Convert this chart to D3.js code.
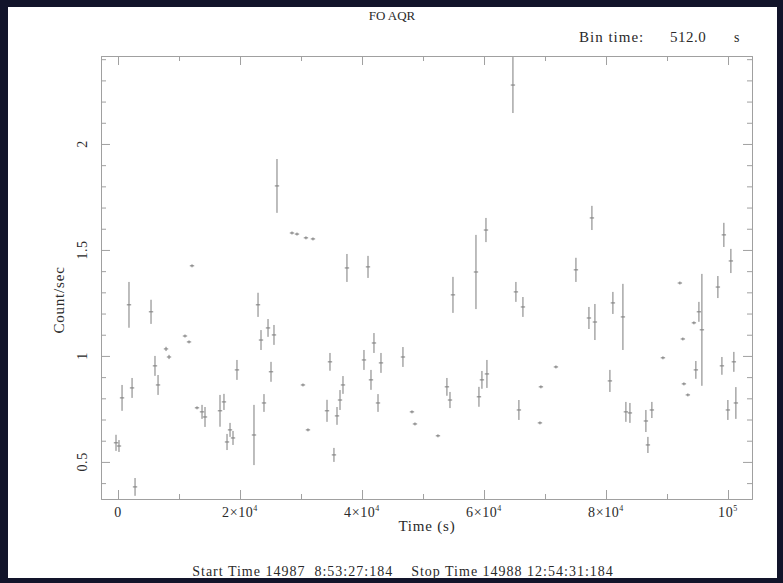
<!DOCTYPE html>
<html>
<head>
<meta charset="utf-8">
<script src="https://cdn.jsdelivr.net/npm/d3@7"></script>
<style>
    body { margin: 0; background: #12142a; }
    svg { display: block; }
    text { font-family: "Liberation Serif", "DejaVu Serif", serif; fill: #2a2a2a; }
</style>
</head>
<body>
<div id="chart"></div>
<script>
// light curve, one bin = 512 s
let binTime = 512

let times = [-330, 160, 660, 1800, 2300, 2790, 5410, 6060, 6560, 7870, 8360, 10980, 11640, 12130, 12950,
    13770, 14260, 16720, 17370, 17870, 18360, 18850, 19500, 22290, 22950, 23440, 23930, 24590, 25080, 25570,
    26060, 28520, 29340, 30320, 30810, 31140, 31960, 34260, 34750, 35400, 35900, 36390, 36880, 37530, 40320,
    40980, 41470, 41960, 42620, 43110, 46710, 48190, 48680, 52450, 53920, 54420, 54910, 58680, 59170, 59660,
    60320, 60480, 64740, 65230, 65720, 66380, 69170, 69330, 71790, 75070, 77200, 77690, 78180, 80640, 81130,
    82770, 83260, 83920, 86540, 86870, 87520, 89330, 92110, 92600, 92770, 93420, 94410, 94730, 95230, 95720,
    98340, 99000, 99320, 99980, 100470, 100960, 101290]

let rates = [0.590, 0.575, 0.802, 1.241, 0.849, 0.382, 1.208, 0.953, 0.863, 1.033, 0.995, 1.094, 1.066, 1.425, 0.755,
    0.736, 0.712, 0.741, 0.783, 0.594, 0.651, 0.613, 0.934, 0.627, 1.241, 1.075, 0.778, 1.132, 0.925, 1.099,
    1.802, 1.580, 1.575, 0.863, 1.557, 0.651, 1.552, 0.741, 0.972, 0.533, 0.717, 0.792, 0.863, 1.415, 0.981,
    1.420, 0.887, 1.061, 0.778, 0.967, 0.995, 0.736, 0.679, 0.623, 0.854, 0.792, 1.288, 1.396, 0.807, 0.887,
    1.594, 0.915, 2.278, 1.302, 0.745, 1.231, 0.684, 0.854, 0.948, 1.406, 1.179, 1.651, 1.160, 0.882, 1.250,
    1.184, 0.736, 0.731, 0.693, 0.580, 0.745, 0.991, 1.344, 1.080, 0.868, 0.816, 1.156, 0.934, 1.208, 1.123,
    1.325, 0.953, 1.571, 0.745, 1.448, 0.972, 0.778]

let errors = [0.038, 0.028, 0.061, 0.108, 0.047, 0.042, 0.057, 0.047, 0.047, 0.010, 0.010, 0.007, 0.007, 0.007, 0.007,
    0.033, 0.047, 0.075, 0.038, 0.038, 0.033, 0.033, 0.047, 0.142, 0.057, 0.047, 0.042, 0.042, 0.047, 0.047,
    0.127, 0.007, 0.007, 0.007, 0.007, 0.007, 0.007, 0.052, 0.042, 0.033, 0.042, 0.047, 0.042, 0.066, 0.047,
    0.052, 0.047, 0.047, 0.042, 0.047, 0.047, 0.007, 0.007, 0.007, 0.042, 0.038, 0.085, 0.175, 0.047, 0.042,
    0.057, 0.066, 0.132, 0.047, 0.047, 0.047, 0.007, 0.007, 0.007, 0.057, 0.052, 0.057, 0.085, 0.052, 0.052,
    0.156, 0.047, 0.047, 0.052, 0.038, 0.038, 0.007, 0.007, 0.007, 0.007, 0.007, 0.007, 0.042, 0.047, 0.264,
    0.052, 0.042, 0.057, 0.047, 0.057, 0.047, 0.075]

let xMajor = [0, 20000, 40000, 60000, 80000, 100000]
let xMajorLabels = [['0', ''], ['2\u00d710', '4'], ['4\u00d710', '4'], ['6\u00d710', '4'], ['8\u00d710', '4'], ['10', '5']]
let xMinor = [10000, 30000, 50000, 70000, 90000]
let yMajor = [0.5, 1, 1.5, 2]
let yMajorLabels = ['0.5', '1', '1.5', '2']
let yMinor = [0.4, 0.6, 0.7, 0.8, 0.9, 1.1, 1.2, 1.3, 1.4, 1.6, 1.7, 1.8, 1.9, 2.1, 2.2, 2.3, 2.4]

let svgWidth = 783
let svgHeight = 583

let margin = {top: 56, right: 31, bottom: 84, left: 101}
let chartWidth = svgWidth - margin.left - margin.right
let chartHeight = svgHeight - margin.top - margin.bottom

let svg = d3.select('#chart')
    .append('svg')
    .attr('width', svgWidth)
    .attr('height', svgHeight)

// dark frame around a white page
svg.append('rect')
    .attr('width', svgWidth).attr('height', svgHeight)
    .attr('fill', '#12142a')
svg.append('rect')
    .attr('x', 8).attr('y', 7)
    .attr('width', 769).attr('height', 571)
    .attr('fill', '#fff')

let x = d3.scaleLinear().domain([-2790, 103930]).range([0, chartWidth])
let y = d3.scaleLinear().domain([0.325, 2.415]).range([chartHeight, 0])

let chartGroup = svg.append('g')
    .attr('transform', `translate(${margin.left}, ${margin.top})`)

const tickAxis = (axisFn, scale, vals, size, tx, ty) => {
    let g = chartGroup.append('g')
        .attr('transform', `translate(${tx}, ${ty})`)
        .call(axisFn(scale).tickValues(vals).tickSize(size).tickSizeOuter(0).tickFormat(''))
    g.selectAll('path, line').attr('stroke', '#a0a0a0')
    return g
}

// box with inward ticks on all four sides
tickAxis(d3.axisBottom, x, xMajor, -9, 0, chartHeight)
tickAxis(d3.axisBottom, x, xMinor, -5, 0, chartHeight)
tickAxis(d3.axisTop, x, xMajor, -9, 0, 0)
tickAxis(d3.axisTop, x, xMinor, -5, 0, 0)
tickAxis(d3.axisLeft, y, yMajor, -9, 0, 0)
tickAxis(d3.axisLeft, y, yMinor, -5, 0, 0)
tickAxis(d3.axisRight, y, yMajor, -9, chartWidth, 0)
tickAxis(d3.axisRight, y, yMinor, -5, chartWidth, 0)

// x tick labels with exponents
let xLabels = chartGroup.selectAll('.xlab')
    .data(xMajor)
    .enter()
    .append('text')
    .attr('x', d => x(d))
    .attr('y', chartHeight + 18)
    .attr('text-anchor', 'middle')
    .attr('font-size', 14)
    .attr('letter-spacing', 0.6)
xLabels.append('tspan').text((d, i) => xMajorLabels[i][0])
xLabels.append('tspan')
    .attr('dy', -6)
    .attr('font-size', 8)
    .text((d, i) => xMajorLabels[i][1])

// y tick labels, rotated like the original
chartGroup.selectAll('.ylab')
    .data(yMajor)
    .enter()
    .append('text')
    .attr('transform', d => `translate(-14, ${y(d)}) rotate(-90)`)
    .attr('text-anchor', 'middle')
    .attr('font-size', 14)
    .attr('letter-spacing', 0.6)
    .text((d, i) => yMajorLabels[i])

// error bars
let pts = times.map((t, i) => ({t: t, r: rates[i], e: errors[i]}))

let bars = chartGroup.append('g')
    .attr('stroke', '#7c7c7c')
    .attr('stroke-width', 1)

bars.selectAll('.ev')
    .data(pts)
    .enter()
    .append('line')
    .attr('x1', d => x(d.t)).attr('x2', d => x(d.t))
    .attr('y1', d => Math.max(0, y(d.r + d.e)))
    .attr('y2', d => y(d.r - d.e))

bars.selectAll('.eh')
    .data(pts)
    .enter()
    .append('line')
    .attr('x1', d => x(d.t - binTime * 0.7)).attr('x2', d => x(d.t + binTime * 0.7))
    .attr('y1', d => y(d.r)).attr('y2', d => y(d.r))

// titles
svg.append('text')
    .attr('x', 392).attr('y', 20)
    .attr('text-anchor', 'middle')
    .attr('font-size', 13)
    .text('FO AQR')

svg.append('text')
    .attr('x', 579).attr('y', 42)
    .attr('font-size', 15)
    .attr('letter-spacing', 1)
    .text('Bin time:')
svg.append('text')
    .attr('x', 670).attr('y', 42)
    .attr('font-size', 15)
    .attr('letter-spacing', 0.5)
    .text('512.0')
svg.append('text')
    .attr('x', 734).attr('y', 42)
    .attr('font-size', 14)
    .text('s')

svg.append('text')
    .attr('x', 427).attr('y', 531)
    .attr('text-anchor', 'middle')
    .attr('font-size', 15)
    .attr('letter-spacing', 0.8)
    .text('Time (s)')

svg.append('text')
    .attr('transform', 'translate(64, 300) rotate(-90)')
    .attr('text-anchor', 'middle')
    .attr('font-size', 15)
    .attr('letter-spacing', 0.8)
    .text('Count/sec')

svg.append('text')
    .attr('x', 403).attr('y', 576)
    .attr('text-anchor', 'middle')
    .attr('font-size', 14)
    .attr('letter-spacing', 1)
    .style('white-space', 'pre')
    .text('Start Time 14987  8:53:27:184    Stop Time 14988 12:54:31:184')
</script>
</body>
</html>
